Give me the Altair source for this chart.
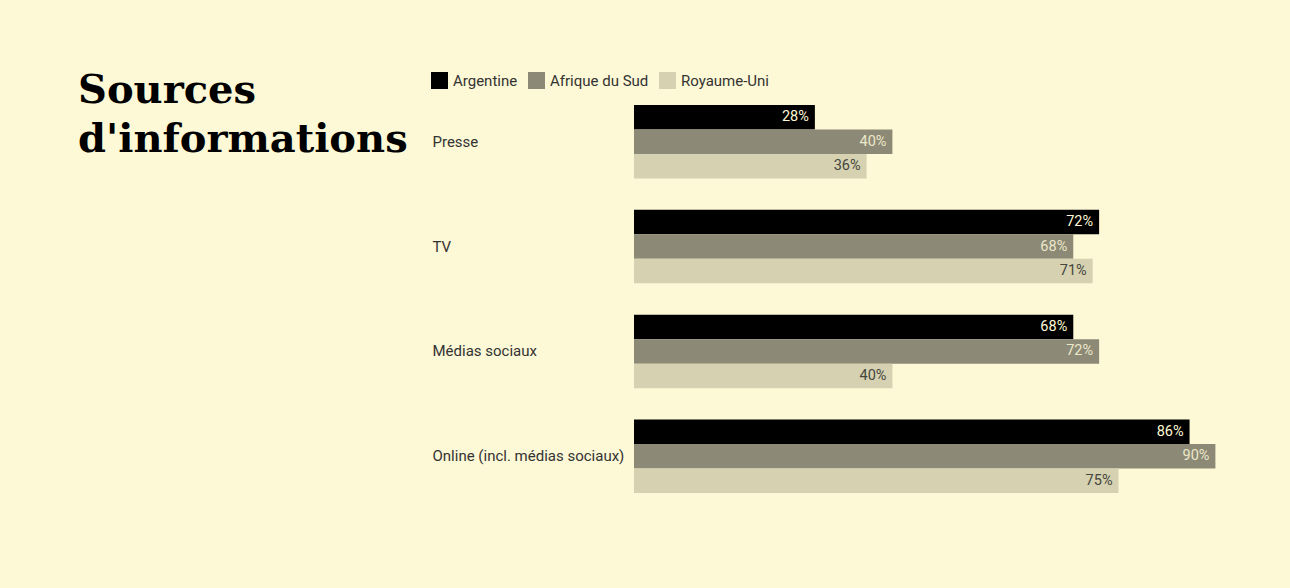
import altair as alt
import pandas as pd

categories = ["Presse", "TV", "Médias sociaux", "Online (incl. médias sociaux)"]
series = ["Argentine", "Afrique du Sud", "Royaume-Uni"]
argentine = [28, 72, 68, 86]
afrique_du_sud = [40, 68, 72, 90]
royaume_uni = [36, 71, 40, 75]

bar_colors = ["#000000", "#8c8a76", "#d5d1b1"]
text_colors = ["#fdf8d5", "#ece7c9", "#46463e"]
bg = "#fdf8d5"

rows = []
for s, vals in zip(series, [argentine, afrique_du_sud, royaume_uni]):
    for c, v in zip(categories, vals):
        rows.append({"category": c, "series": s, "value": v, "label": f"{v}%"})
df = pd.DataFrame(rows)

y_enc = alt.Y(
    "category:N",
    sort=categories,
    scale=alt.Scale(paddingInner=0.3, paddingOuter=0),
    axis=alt.Axis(
        title=None, labelAlign="left", labelPadding=202, ticks=False, domain=False,
        labelFont="Roboto", labelFontSize=15, labelColor="#333333", labelLimit=300,
    ),
)
yoff = alt.YOffset("series:N", sort=series, scale=alt.Scale(domain=series, paddingInner=0, paddingOuter=0))
x_enc = alt.X("value:Q", scale=alt.Scale(domain=[0, 100]), axis=None)

base = alt.Chart(df)

bars = base.mark_bar(cornerRadius=0).encode(
    y=y_enc,
    yOffset=yoff,
    x=x_enc,
    color=alt.Color(
        "series:N",
        scale=alt.Scale(domain=series, range=bar_colors),
        legend=alt.Legend(
            title=None, orient="none", legendX=-203, legendY=-33, direction="horizontal",
            symbolType="square", symbolSize=289, symbolStrokeWidth=0, symbolOpacity=1,
            labelFont="Roboto", labelFontSize=15, labelColor="#333333", columnPadding=10,
            labelOffset=5, padding=0,
        ),
    ),
)

labels = base.mark_text(align="right", baseline="middle", dx=-6, font="Roboto", fontSize=14.5).encode(
    y=y_enc,
    yOffset=yoff,
    x=x_enc,
    text="label:N",
    color=alt.Color("series:N", scale=alt.Scale(domain=series, range=text_colors), legend=None),
)

chart = (
    alt.layer(bars, labels)
    .resolve_scale(color="independent")
    .properties(
        width=646,
        height=388,
        autosize=alt.AutoSizeParams(type="none"),
        padding={"left": 634, "top": 105, "right": 10, "bottom": 95},
        background=bg,
        title=alt.TitleParams(
            ["Sources", "d'informations"], anchor="start", frame="group", dx=-556, dy=88,
            font="DejaVu Serif", fontSize=40, fontWeight="bold", color="#000000", lineHeight=49,
            baseline="top", offset=0,
        ),
    )
    .configure_view(stroke=None)
)

chart.save("out.html", embed_options={"renderer": "svg", "actions": False})
